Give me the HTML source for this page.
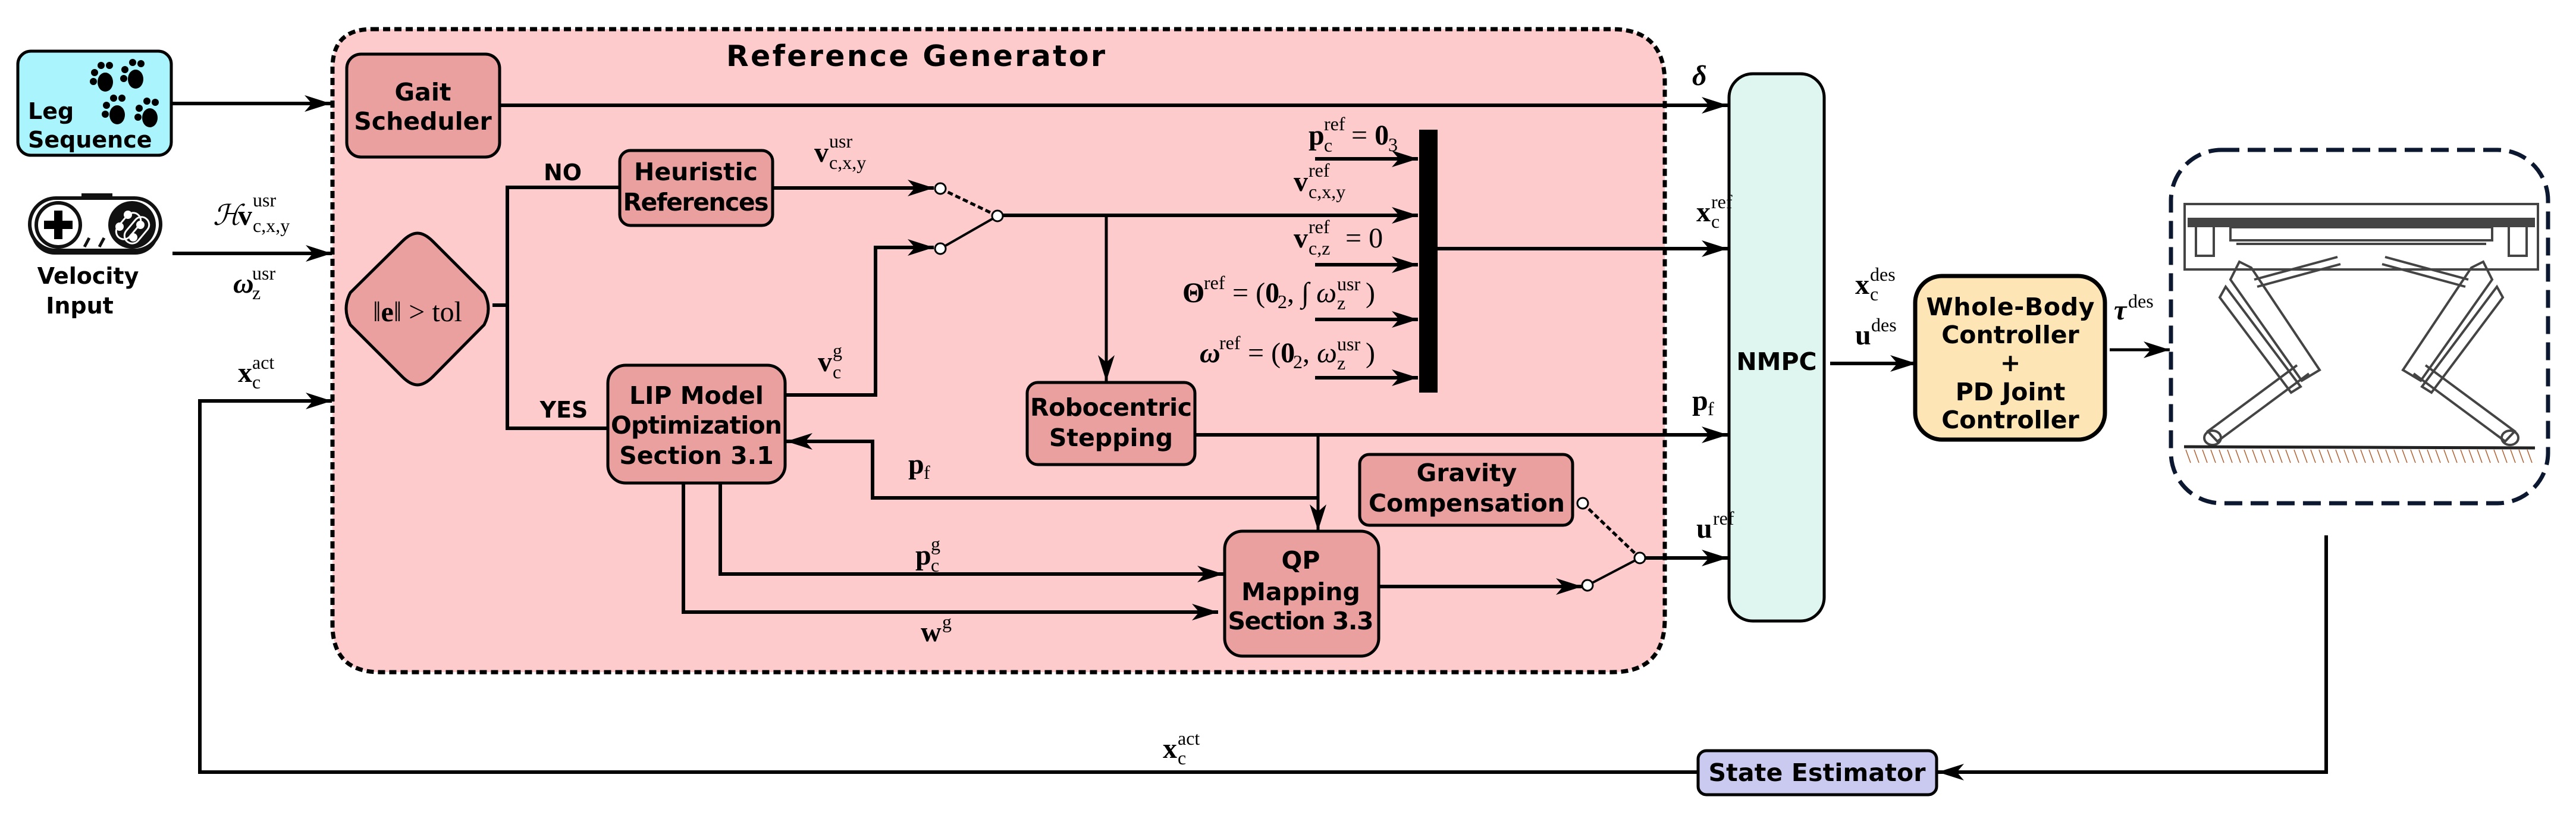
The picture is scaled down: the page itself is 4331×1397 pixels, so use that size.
<!DOCTYPE html>
<html><head><meta charset="utf-8"><style>
html,body{margin:0;padding:0;background:#fff;}
svg{display:block;}
.bx{font-family:"DejaVu Sans","Liberation Sans",sans-serif;font-weight:bold;font-size:41px;text-anchor:middle;fill:#000;}
.m{font-family:"Liberation Serif","DejaVu Serif",serif;font-size:48px;fill:#000;}
.s{font-family:"Liberation Serif","DejaVu Serif",serif;font-size:32px;fill:#000;}
.b{font-weight:bold;}
.i{font-style:italic;}
</style></head><body>
<svg width="4331" height="1397" viewBox="0 0 4331 1397" xmlns="http://www.w3.org/2000/svg">
<defs>
<marker id="a" markerUnits="userSpaceOnUse" markerWidth="48" markerHeight="32" refX="44" refY="16" orient="auto">
<path d="M0,2 L44,16 L0,30 L12,16 Z" fill="#000"/>
</marker>
</defs>

<path d="M625,49 H2710 Q2799,49 2799,139 V1040 Q2799,1130 2710,1130 H640 Q559,1130 559,1050 V115 Q559,49 625,49 Z" fill="#fdcbcb" stroke="#000" stroke-width="7" stroke-dasharray="12,7"/>
<text x="1221" y="111" font-family="DejaVu Sans, Liberation Sans, sans-serif" font-weight="bold" font-size="49" textLength="637">Reference Generator</text>

<rect x="30" y="86" width="258" height="175" rx="22" fill="#aaf5fd" stroke="#000" stroke-width="5"/>
<text x="47" y="200" class="bx" style="text-anchor:start;font-size:38px">Leg</text>
<text x="47" y="248" class="bx" style="text-anchor:start;font-size:38px">Sequence</text>
<g fill="#000">
<g transform="translate(177,130)"><ellipse cx="0" cy="8" rx="13" ry="16"/><circle cx="-18" cy="-8" r="6"/><circle cx="-7" cy="-20" r="6"/><circle cx="7" cy="-20" r="6"/><circle cx="-20" cy="7" r="6"/></g>
<g transform="translate(228,125)"><ellipse cx="0" cy="8" rx="13" ry="16"/><circle cx="-18" cy="-8" r="6"/><circle cx="-5" cy="-20" r="6"/><circle cx="9" cy="-18" r="6"/><circle cx="-20" cy="7" r="6"/></g>
<g transform="translate(197,185)"><ellipse cx="0" cy="8" rx="13" ry="16"/><circle cx="-18" cy="-8" r="6"/><circle cx="-6" cy="-20" r="6"/><circle cx="8" cy="-20" r="6"/><circle cx="-20" cy="7" r="6"/></g>
<g transform="translate(252,190)"><ellipse cx="0" cy="8" rx="13" ry="16"/><circle cx="-18" cy="-8" r="6"/><circle cx="-5" cy="-20" r="6"/><circle cx="9" cy="-18" r="6"/><circle cx="-20" cy="7" r="6"/></g>
</g>

<g>
<rect x="137" y="325" width="52" height="9" fill="#111"/>
<rect x="52" y="340" width="215" height="88" rx="40" fill="#111"/>
<rect x="50" y="333" width="220" height="88" rx="44" fill="#fff" stroke="#111" stroke-width="6"/>
<circle cx="98" cy="378" r="37" fill="#fff" stroke="#111" stroke-width="6"/>
<path d="M91,354 h14 v17 h17 v14 h-17 v17 h-14 v-17 h-17 v-14 h17 z" fill="#000"/>
<circle cx="222" cy="378" r="40" fill="#111"/>
<rect x="203" y="355" width="26" height="50" rx="13" fill="none" stroke="#fff" stroke-width="3" transform="rotate(40 216 380)"/>
<rect x="217" y="362" width="26" height="50" rx="13" fill="none" stroke="#fff" stroke-width="3" transform="rotate(40 230 387)"/>
<circle cx="201" cy="381" r="7" fill="#fff"/><circle cx="215" cy="361" r="7" fill="#fff"/><circle cx="236" cy="378" r="7" fill="#fff"/><circle cx="224" cy="399" r="7" fill="#fff"/>
<line x1="150" y1="400" x2="142" y2="415" stroke="#111" stroke-width="5"/>
<line x1="175" y1="400" x2="167" y2="415" stroke="#111" stroke-width="5"/>
</g>
<text x="148" y="477" class="bx" style="font-size:38px">Velocity</text>
<text x="134" y="527" class="bx" style="font-size:38px">Input</text>

<g stroke="#000" stroke-width="6" fill="none">
<line x1="288" y1="174" x2="556" y2="174" marker-end="url(#a)"/>
<line x1="290" y1="426" x2="558" y2="426" marker-end="url(#a)"/>
<polyline points="336,1298 336,674 558,674" marker-end="url(#a)"/>
<line x1="333" y1="1298" x2="3240" y2="1298"/>
<polyline points="3911,900 3911,1298 3258,1298" marker-end="url(#a)"/>
</g>

<text class="m i" x="358" y="378" font-size="40">ℋ</text>
<text class="m b" x="400" y="378">v</text>
<text class="s" x="425" y="347">usr</text>
<text class="s" x="425" y="390">c,x,y</text>
<text class="m b i" x="392" y="492">ω</text>
<text class="s" x="424" y="470">usr</text>
<text class="s" x="424" y="503">z</text>
<text class="m b" x="400" y="642">x</text>
<text class="s" x="424" y="620">act</text>
<text class="s" x="424" y="653">c</text>

<g stroke="#000" stroke-width="5" fill="#eba0a0">
<rect x="583" y="91" width="257" height="173" rx="24"/>
<rect x="1042" y="253" width="257" height="126" rx="18"/>
<rect x="1022" y="614" width="298" height="198" rx="30"/>
<rect x="1727" y="643" width="282" height="138" rx="18"/>
<rect x="2286" y="764" width="358" height="119" rx="16"/>
<rect x="2059" y="893" width="259" height="210" rx="30"/>
<path d="M702,392 Q714,392 728,406 L814,492 Q828,519 814,546 L728,633 Q714,647 702,647 Q690,647 676,633 L589,546 Q575,519 589,492 L676,406 Q690,392 702,392 Z"/>
</g>
<text class="bx" x="711" y="169">Gait</text>
<text class="bx" x="711" y="218">Scheduler</text>
<text class="bx" x="1170" y="303">Heuristic</text>
<text class="bx" x="1170" y="354" textLength="245">References</text>
<text class="bx" x="1171" y="679">LIP Model</text>
<text class="bx" x="1171" y="729" textLength="288">Optimization</text>
<text class="bx" x="1171" y="780">Section 3.1</text>
<text class="bx" x="1868" y="699" textLength="272">Robocentric</text>
<text class="bx" x="1868" y="750">Stepping</text>
<text class="bx" x="2466" y="809">Gravity</text>
<text class="bx" x="2466" y="860" textLength="330">Compensation</text>
<text class="bx" x="2187" y="956">QP</text>
<text class="bx" x="2187" y="1009">Mapping</text>
<text class="bx" x="2187" y="1058" textLength="245">Section 3.3</text>
<text class="m" x="702" y="540" font-size="62" text-anchor="middle">‖<tspan class="b">e</tspan>‖ &gt; tol</text>

<rect x="2907" y="124" width="160" height="920" rx="40" fill="#dff5f0" stroke="#000" stroke-width="5"/>
<text class="bx" x="2987" y="622">NMPC</text>
<rect x="3220" y="464" width="319" height="275" rx="45" fill="#fde5b6" stroke="#000" stroke-width="7"/>
<text class="bx" x="3380" y="530" textLength="283">Whole-Body</text>
<text class="bx" x="3380" y="577">Controller</text>
<text class="bx" x="3380" y="624">+</text>
<text class="bx" x="3380" y="673">PD Joint</text>
<text class="bx" x="3380" y="720">Controller</text>
<rect x="2855" y="1262" width="401" height="74" rx="14" fill="#cacaf0" stroke="#000" stroke-width="5"/>
<text class="bx" x="3055" y="1313" textLength="365">State Estimator</text>

<rect x="3650" y="252" width="634" height="594" rx="85" fill="#fff" stroke="#0c1830" stroke-width="7" stroke-dasharray="30,14"/>
<g stroke="#444" stroke-width="4" fill="none">
<rect x="3673" y="343" width="594" height="110"/>
<rect x="3680" y="368" width="580" height="12" fill="#444"/>
<rect x="3692" y="378" width="30" height="52"/>
<rect x="4218" y="378" width="30" height="52"/>
<rect x="3750" y="382" width="440" height="22"/>
<line x1="3760" y1="410" x2="4180" y2="410"/>
<path d="M3790,470 L3930,432 M3795,482 L3935,444"/>
<path d="M4150,470 L4010,432 M4145,482 L4005,444"/>
<path d="M3765,440 L3750,470 L3870,640 L3900,622 L3785,450 Z"/>
<path d="M3742,482 L3732,500 L3852,660 L3868,650 Z"/>
<path d="M3882,628 L3728,742 L3712,725 L3862,614"/>
<ellipse cx="3720" cy="736" rx="14" ry="12"/>
<path d="M4175,440 L4190,470 L4070,640 L4040,622 L4155,450 Z"/>
<path d="M4198,482 L4208,500 L4088,660 L4072,650 Z"/>
<path d="M4058,628 L4212,742 L4228,725 L4078,614"/>
<ellipse cx="4220" cy="736" rx="14" ry="12"/>
<line x1="3672" y1="751" x2="4262" y2="753" stroke="#222" stroke-width="5"/>
</g>
<g stroke="#b06030" stroke-width="1.5">
<path d="M3675,756 l8,22 M3689,756 l8,22 M3703,756 l8,22 M3717,756 l8,22 M3731,756 l8,22 M3745,756 l8,22 M3759,756 l8,22 M3773,756 l8,22 M3787,756 l8,22 M3801,756 l8,22 M3815,756 l8,22 M3829,756 l8,22 M3843,756 l8,22 M3857,756 l8,22 M3871,756 l8,22 M3885,756 l8,22 M3899,756 l8,22 M3913,756 l8,22 M3927,756 l8,22 M3941,756 l8,22 M3955,756 l8,22 M3969,756 l8,22 M3983,756 l8,22 M3997,756 l8,22 M4011,756 l8,22 M4025,756 l8,22 M4039,756 l8,22 M4053,756 l8,22 M4067,756 l8,22 M4081,756 l8,22 M4095,756 l8,22 M4109,756 l8,22 M4123,756 l8,22 M4137,756 l8,22 M4151,756 l8,22 M4165,756 l8,22 M4179,756 l8,22 M4193,756 l8,22 M4207,756 l8,22 M4221,756 l8,22 M4235,756 l8,22 M4249,756 l8,22"/>
</g>

<g stroke="#000" stroke-width="6" fill="none">
<line x1="840" y1="177" x2="2905" y2="177" marker-end="url(#a)"/>
<line x1="828" y1="513" x2="853" y2="513"/>
<polyline points="1042,315 853,315 853,720 1022,720"/>
<line x1="1299" y1="316" x2="1570" y2="316" marker-end="url(#a)"/>
<polyline points="1320,664 1472,664 1472,416 1570,416" marker-end="url(#a)"/>
<line x1="1686" y1="362" x2="2384" y2="362" marker-end="url(#a)"/>
<line x1="1860" y1="362" x2="1860" y2="641" stroke-width="5" marker-end="url(#a)"/>
<line x1="2211" y1="267" x2="2384" y2="267" marker-end="url(#a)"/>
<line x1="2211" y1="445" x2="2384" y2="445" marker-end="url(#a)"/>
<line x1="2211" y1="537" x2="2384" y2="537" marker-end="url(#a)"/>
<line x1="2211" y1="635" x2="2384" y2="635" marker-end="url(#a)"/>
<line x1="2417" y1="418" x2="2905" y2="418" marker-end="url(#a)"/>
<line x1="2009" y1="731" x2="2905" y2="731" marker-end="url(#a)"/>
<line x1="2216" y1="731" x2="2216" y2="892" stroke-width="5" marker-end="url(#a)"/>
<polyline points="2216,837 1467,837 1467,742 1322,742" marker-end="url(#a)"/>
<polyline points="1211,812 1211,965 2057,965" marker-end="url(#a)"/>
<polyline points="1149,812 1149,1029 2048,1029" marker-end="url(#a)"/>
<line x1="2318" y1="986" x2="2660" y2="986" marker-end="url(#a)"/>
<line x1="2766" y1="938" x2="2905" y2="938" marker-end="url(#a)"/>
<line x1="3077" y1="611" x2="3222" y2="611" marker-end="url(#a)"/>
<line x1="3547" y1="588" x2="3648" y2="588" stroke-width="5" marker-end="url(#a)"/>
</g>
<rect x="2386" y="218" width="31" height="442" fill="#000"/>

<g stroke="#000" stroke-width="4">
<line x1="1581" y1="317" x2="1677" y2="363" stroke-dasharray="9,5" stroke-width="5"/>
<line x1="1581" y1="418" x2="1677" y2="363"/>
<line x1="2661" y1="846" x2="2757" y2="938" stroke-dasharray="9,5" stroke-width="5"/>
<line x1="2669" y1="984" x2="2757" y2="938"/>
<g fill="#fff" stroke-width="3">
<circle cx="1581" cy="317" r="9"/><circle cx="1581" cy="418" r="9"/><circle cx="1677" cy="363" r="9"/>
<circle cx="2661" cy="846" r="9"/><circle cx="2669" cy="984" r="9"/><circle cx="2757" cy="938" r="9"/>
</g>
</g>

<text class="bx" x="946" y="303" style="font-size:38px">NO</text>
<text class="bx" x="948" y="702" style="font-size:38px">YES</text>

<text class="m b" x="1369" y="272">v</text><text class="s" x="1394" y="248">usr</text><text class="s" x="1394" y="284">c,x,y</text>
<text class="m b" x="1375" y="624">v</text><text class="s" x="1400" y="600">g</text><text class="s" x="1400" y="636">c</text>

<text class="m b" x="2200" y="243">p</text><text class="s" x="2226" y="219">ref</text><text class="s" x="2226" y="255">c</text>
<text class="m" x="2272" y="243">= <tspan class="b">0</tspan></text><text class="s" x="2334" y="254">3</text>

<text class="m b" x="2175" y="321">v</text><text class="s" x="2200" y="297">ref</text><text class="s" x="2200" y="333">c,x,y</text>

<text class="m b" x="2175" y="416">v</text><text class="s" x="2200" y="392">ref</text><text class="s" x="2200" y="428">c,z</text>
<text class="m" x="2262" y="416">= 0</text>

<text class="m b" x="1988" y="508">Θ</text><text class="s" x="2024" y="486">ref</text>
<text class="m" x="2072" y="508">= (<tspan class="b">0</tspan></text><text class="s" x="2148" y="518">2</text>
<text class="m" x="2164" y="508">, ∫ <tspan class="i">ω</tspan></text><text class="s" x="2248" y="488">usr</text><text class="s" x="2248" y="520">z</text>
<text class="m" x="2296" y="508">)</text>

<text class="m b i" x="2017" y="609">ω</text><text class="s" x="2050" y="587">ref</text>
<text class="m" x="2098" y="609">= (<tspan class="b">0</tspan></text><text class="s" x="2174" y="619">2</text>
<text class="m" x="2190" y="609">, <tspan class="i">ω</tspan></text><text class="s" x="2248" y="589">usr</text><text class="s" x="2248" y="621">z</text>
<text class="m" x="2296" y="609">)</text>

<text class="m b i" x="2845" y="143">δ</text>
<text class="m b" x="2852" y="372">x</text><text class="s" x="2877" y="350">ref</text><text class="s" x="2877" y="383">c</text>
<text class="m b" x="2845" y="689">p</text><text class="s" x="2871" y="698">f</text>
<text class="m b" x="2852" y="904">u</text><text class="s" x="2880" y="882">ref</text>
<text class="m b" x="1527" y="796">p</text><text class="s" x="1553" y="805">f</text>
<text class="m b" x="1539" y="949">p</text><text class="s" x="1565" y="925">g</text><text class="s" x="1565" y="961">c</text>
<text class="m b" x="1548" y="1078">w</text><text class="s" x="1584" y="1056">g</text>
<text class="m b" x="1955" y="1274">x</text><text class="s" x="1980" y="1252">act</text><text class="s" x="1980" y="1285">c</text>
<text class="m b" x="3119" y="494">x</text><text class="s" x="3144" y="472">des</text><text class="s" x="3144" y="505">c</text>
<text class="m b" x="3119" y="579">u</text><text class="s" x="3146" y="557">des</text>
<text class="m b i" x="3554" y="537">τ</text><text class="s" x="3578" y="517">des</text>
</svg>
</body></html>
